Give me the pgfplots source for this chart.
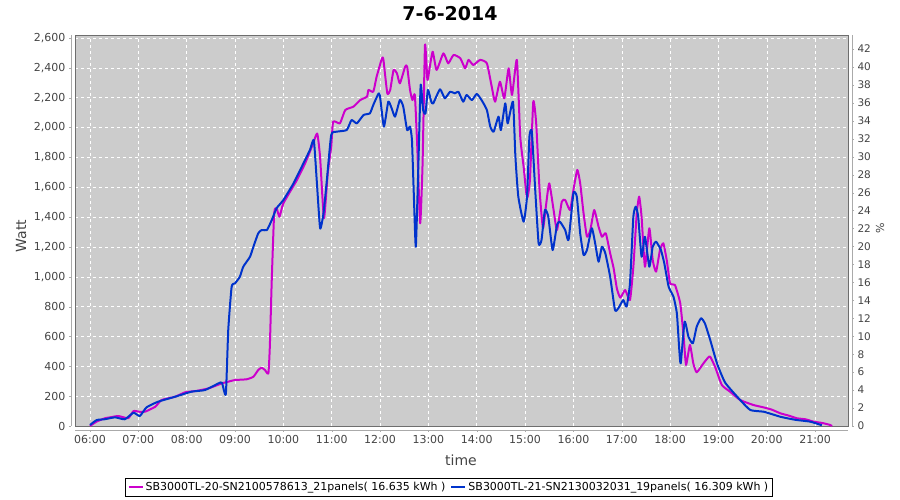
\documentclass[border=0pt]{standalone}
\usepackage{fontspec}
\setmainfont{DejaVu Sans}
\usepackage{pgfplots}
\pgfplotsset{compat=1.18}

\definecolor{magline}{RGB}{204,0,204}
\definecolor{blueline}{RGB}{0,51,204}
\definecolor{plotbg}{RGB}{204,204,204}
\definecolor{ticktext}{RGB}{68,68,68}
\definecolor{axisgray}{RGB}{170,170,170}
\definecolor{framegray}{RGB}{110,110,110}

\begin{document}
\begin{tikzpicture}
\path[use as bounding box] (0,0) rectangle (900pt,500pt);

% right axis (percent)
\begin{axis}[
  at={(75pt,74pt)}, anchor=south west,
  scale only axis, width=773pt, height=391pt,
  xmin=5.69, xmax=21.68, ymin=0, ymax=43.56,
  axis x line=none, axis y line*=right,
  axis line style={draw=none},
  ytick={0,2,...,42},
  tick align=outside, major tick length=2pt,
  ytick style={xshift=4pt, axisgray},
  yticklabel shift=4pt,
  ticklabel style={font=\fontsize{10.5}{12}\selectfont, text=ticktext},
  /pgf/number format/assume math mode=true,
]
\addplot[draw=none] coordinates {(6,0)};
\end{axis}

% main axis (Watt)
\begin{axis}[
  at={(75pt,74pt)}, anchor=south west,
  scale only axis, width=773pt, height=391pt,
  xmin=5.69, xmax=21.68, ymin=0, ymax=2620,
  axis background/.style={fill=plotbg},
  axis line style={framegray, line width=0.8pt},
  xtick={6,7,...,21},
  xticklabels={06:00,07:00,08:00,09:00,10:00,11:00,12:00,13:00,14:00,15:00,16:00,17:00,18:00,19:00,20:00,21:00},
  ytick={0,200,...,2600},
  yticklabels={0,200,400,600,800,{1,000},{1,200},{1,400},{1,600},{1,800},{2,000},{2,200},{2,400},{2,600}},
  xtick pos=left, ytick pos=left,
  tick align=outside, major tick length=2pt,
  xtick style={yshift=-4pt, axisgray},
  ytick style={xshift=-4pt, axisgray},
  xticklabel shift=4pt, yticklabel shift=4pt,
  ticklabel style={font=\fontsize{11}{13}\selectfont, text=ticktext},
  grid=major, grid style={white, dashed, line width=0.5pt},
  clip=false,
  legend style={at={(0.4838,-0.156)}, anchor=center, legend columns=2,
    draw=black, line width=0.8pt, fill=white, font=\fontsize{11}{13}\selectfont,
    inner sep=2pt, /tikz/every even column/.append style={column sep=3pt}},
  legend image code/.code={\draw[#1, line width=2pt] (0pt,0pt) -- (14pt,0pt);},
]
\draw[axisgray, line width=0.8pt] ([xshift=-4pt]rel axis cs:0,0) -- ([xshift=-4pt]rel axis cs:0,1);
\draw[axisgray, line width=0.8pt] ([yshift=-4pt]rel axis cs:0,0) -- ([yshift=-4pt]rel axis cs:1,0);
\draw[axisgray, line width=0.8pt] ([xshift=4pt]rel axis cs:1,0) -- ([xshift=4pt]rel axis cs:1,1);

\addplot[magline, line width=2pt, line join=round, smooth, tension=0.3] coordinates {
(6.00,0) (6.14,30) (6.31,52) (6.45,60) (6.59,67) (6.79,52) (6.90,100) (7.03,95) (7.14,96)
(7.35,129) (7.48,174) (7.76,196) (7.97,226) (8.20,235) (8.45,252) (8.73,286) (8.86,297)
(9.00,308) (9.24,313) (9.38,330) (9.48,375) (9.55,391) (9.62,375) (9.69,353) (9.72,531)
(9.76,978) (9.81,1425) (9.86,1459) (9.92,1402) (10.00,1492) (10.28,1648) (10.45,1760)
(10.60,1880) (10.70,1960) (10.76,1800) (10.84,1392) (10.92,1700) (10.99,1872) (11.03,2039)
(11.17,2028) (11.28,2117) (11.45,2140) (11.59,2184) (11.73,2207) (11.76,2252) (11.86,2240)
(11.93,2341) (12.04,2464) (12.07,2453) (12.15,2229) (12.21,2252) (12.28,2386) (12.35,2363)
(12.41,2296) (12.52,2408) (12.56,2408) (12.62,2252) (12.67,2184) (12.72,2218) (12.77,1872)
(12.83,1358) (12.88,1760) (12.93,2553) (12.98,2319) (13.03,2408) (13.09,2508) (13.17,2386)
(13.31,2497) (13.41,2430) (13.52,2486) (13.66,2464) (13.76,2397) (13.83,2453) (13.93,2419)
(14.07,2453) (14.21,2430) (14.31,2274) (14.38,2173) (14.48,2307) (14.57,2196) (14.66,2397)
(14.73,2218) (14.83,2453) (14.90,1939) (14.97,1738) (15.04,1526) (15.10,1648) (15.17,2173)
(15.23,2028) (15.30,1581) (15.37,1325) (15.43,1470) (15.50,1626) (15.59,1447) (15.66,1313)
(15.76,1503) (15.83,1514) (15.93,1447) (16.00,1581) (16.08,1716) (16.14,1626) (16.21,1425)
(16.28,1268) (16.35,1313) (16.43,1447) (16.52,1336) (16.59,1268) (16.67,1291) (16.76,1157)
(16.83,1060) (16.90,920) (16.97,860) (17.07,911) (17.17,844) (17.24,1067) (17.31,1425)
(17.36,1537) (17.41,1402) (17.48,1067) (17.57,1325) (17.64,1112) (17.71,1034) (17.79,1179)
(17.86,1224) (17.93,1112) (18.00,956) (18.10,945) (18.21,822) (18.28,598) (18.33,409)
(18.41,543) (18.48,420) (18.55,360) (18.69,420) (18.79,460) (18.83,464) (18.93,397)
(19.07,275) (19.24,230) (19.45,174) (19.72,141) (19.93,125) (20.10,110) (20.28,85)
(20.45,70) (20.62,52) (20.80,45) (20.97,29) (21.15,20) (21.31,7) (21.35,0)
};
\addlegendentry{SB3000TL-20-SN2100578613\_21panels( 16.635 kWh )}

\addplot[blueline, line width=2pt, line join=round, smooth, tension=0.3] coordinates {
(6.00,7) (6.14,40) (6.30,45) (6.52,58) (6.72,45) (6.90,89) (7.03,67) (7.17,125) (7.41,163)
(7.76,196) (8.10,230) (8.38,241) (8.66,286) (8.73,290) (8.81,214) (8.86,643) (8.93,933)
(9.00,956) (9.10,1000) (9.17,1067) (9.31,1134) (9.38,1201) (9.48,1291) (9.55,1313)
(9.66,1313) (9.76,1380) (9.86,1459) (10.00,1514) (10.21,1626) (10.40,1750) (10.55,1850)
(10.63,1916) (10.69,1648) (10.76,1325) (10.83,1425) (10.90,1648) (10.99,1950) (11.10,1972)
(11.31,1983) (11.41,2050) (11.52,2028) (11.66,2084) (11.79,2095) (11.86,2151) (11.97,2229)
(12.00,2207) (12.08,2006) (12.17,2173) (12.24,2129) (12.31,2073) (12.41,2184) (12.48,2140)
(12.56,1983) (12.62,2006) (12.66,1916) (12.70,1537) (12.74,1201) (12.79,1716) (12.84,2285)
(12.89,2118) (12.94,2095) (12.99,2252) (13.06,2173) (13.10,2162) (13.24,2256) (13.34,2196)
(13.45,2240) (13.55,2229) (13.62,2240) (13.72,2173) (13.79,2218) (13.90,2184) (14.00,2225)
(14.10,2184) (14.21,2117) (14.28,2006) (14.35,1972) (14.45,2073) (14.50,1983) (14.59,2162)
(14.64,2028) (14.75,2173) (14.80,1805) (14.86,1537) (14.97,1369) (15.04,1537) (15.09,1939)
(15.14,1972) (15.21,1581) (15.28,1224) (15.34,1246) (15.41,1447) (15.48,1403) (15.57,1179)
(15.66,1347) (15.72,1369) (15.83,1313) (15.90,1246) (16.00,1559) (16.07,1537) (16.14,1291)
(16.21,1146) (16.28,1179) (16.38,1325) (16.45,1224) (16.52,1101) (16.59,1201) (16.66,1157)
(16.76,1000) (16.86,777) (16.93,789) (17.03,844) (17.10,800) (17.17,956) (17.24,1403)
(17.29,1470) (17.34,1403) (17.41,1134) (17.48,1268) (17.57,1067) (17.64,1201) (17.71,1235)
(17.81,1179) (17.88,1090) (17.97,933) (18.07,866) (18.14,755) (18.19,509) (18.22,420)
(18.30,699) (18.38,598) (18.47,554) (18.55,665) (18.64,722) (18.72,688) (18.83,576)
(18.97,420) (19.14,290) (19.45,174) (19.66,107) (19.93,96) (20.10,80) (20.28,62)
(20.45,50) (20.62,40) (20.90,29) (21.14,5)
};
\addlegendentry{SB3000TL-21-SN2130032031\_19panels( 16.309 kWh )}
\end{axis}

\node[font=\bfseries\fontsize{19}{22}\selectfont] at (450pt,486pt) {7-6-2014};
\node[rotate=90, font=\fontsize{14}{16}\selectfont, text=ticktext] at (21pt,264pt) {Watt};
\node[font=\fontsize{14}{16}\selectfont, text=ticktext] at (461pt,40pt) {time};
\node[rotate=90, font=\fontsize{11}{13}\selectfont, text=ticktext] at (880pt,272pt) {\%};
\end{tikzpicture}
\end{document}
